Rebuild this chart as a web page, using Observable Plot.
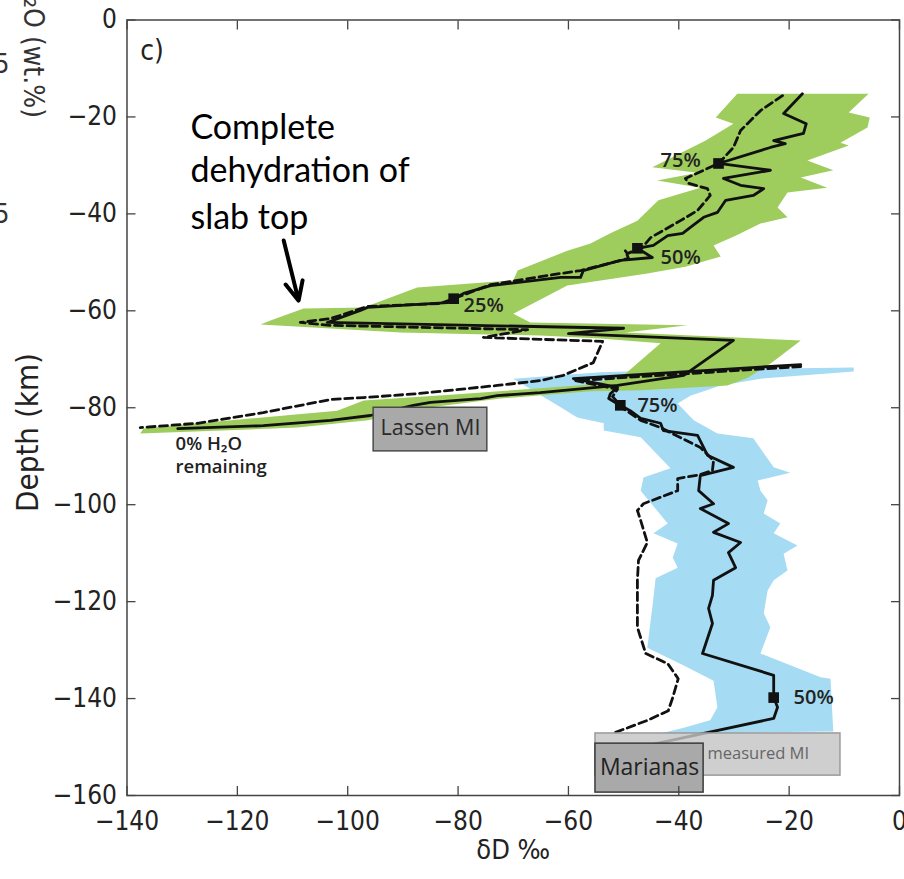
<!DOCTYPE html>
<html><head><meta charset="utf-8">
<script src="https://cdn.jsdelivr.net/npm/d3@7"></script>
<script src="https://cdn.jsdelivr.net/npm/@observablehq/plot@0.6"></script>
<style>body{margin:0;background:#fff}#chart svg{display:block}</style>
</head><body><div id="chart"></div>
<script>
const xTicks = [-140, -120, -100, -80, -60, -40, -20, 0];
const yTicks = [0, -20, -40, -60, -80, -100, -120, -140, -160];

// [δD ‰, depth km]
const lassenSolid = [[-17.6,-15.2],[-21.0,-19.3],[-16.9,-21.4],[-17.4,-23.4],[-22.8,-24.9],[-20.7,-25.5],[-23.4,-26.3],[-32.8,-29.6],[-23.4,-31.0],[-31.9,-32.7],[-28.8,-34.1],[-24.6,-34.8],[-26.5,-36.2],[-31.5,-37.2],[-33.0,-39.7],[-35.5,-40.7],[-37.9,-42.8],[-39.3,-44.0],[-42.0,-44.5],[-44.6,-46.5],[-47.5,-47.1],[-44.8,-49.0],[-50.6,-49.6],[-57.3,-51.7],[-57.8,-53.1],[-61.4,-53.1],[-74.1,-54.8],[-79.0,-56.4],[-80.8,-57.5],[-81.9,-58.3],[-96.4,-59.3],[-97.7,-59.9],[-103.7,-62.4],[-50.0,-63.6],[-60.0,-64.7],[-30.1,-66.1],[-39.1,-73.3],[-51.1,-75.4],[-65.1,-76.9],[-72.9,-77.5],[-75.9,-78.1],[-85.0,-78.9],[-88.1,-79.5],[-95.9,-81.6],[-103.1,-82.6],[-115.3,-83.7],[-130.8,-84.3]];
const lassenDashed = [[-21.2,-15.6],[-25.2,-18.7],[-28.8,-22.8],[-30.1,-26.3],[-32.8,-29.6],[-38.8,-32.7],[-38.2,-33.7],[-34.8,-34.8],[-34.3,-36.2],[-36.6,-39.3],[-39.7,-41.4],[-45.1,-44.9],[-46.6,-46.9],[-49.3,-48.2],[-49.7,-47.6],[-49.1,-49.2],[-57.8,-51.7],[-61.4,-52.3],[-74.1,-54.6],[-80.8,-57.5],[-83.2,-58.5],[-96.4,-59.1],[-103.1,-61.6],[-108.6,-62.4],[-103.1,-63.0],[-67.4,-63.9],[-75.4,-65.5],[-53.8,-66.3],[-55.5,-70.7],[-60.9,-73.3],[-65.1,-74.4],[-72.9,-75.4],[-87.4,-77.1],[-97.1,-77.9],[-103.1,-78.3],[-115.3,-81.0],[-127.2,-83.2],[-137.6,-84.1]];
const marianasSolid = [[-17.9,-71.1],[-59.1,-74.0],[-51.1,-75.8],[-52.4,-77.1],[-52.7,-78.1],[-51.5,-78.9],[-50.6,-79.5],[-48.8,-80.6],[-46.9,-82.2],[-43.3,-83.2],[-42.8,-84.7],[-36.6,-85.7],[-34.8,-89.8],[-30.1,-92.3],[-36.1,-94.0],[-36.4,-97.1],[-33.7,-99.8],[-36.1,-100.8],[-31.0,-103.9],[-33.7,-105.7],[-28.8,-107.8],[-31.0,-109.9],[-29.7,-113.0],[-33.7,-115.6],[-33.9,-118.7],[-34.6,-121.4],[-33.9,-124.5],[-35.7,-130.7],[-22.8,-135.2],[-22.8,-139.8],[-22.1,-141.8],[-22.8,-144.1],[-43.3,-149.1],[-47.0,-150.0]];
const marianasDashed = [[-17.9,-71.5],[-58.7,-74.4],[-51.1,-76.2],[-52.0,-77.7],[-50.0,-80.2],[-46.9,-82.6],[-43.3,-84.1],[-36.1,-88.2],[-33.7,-90.9],[-33.9,-92.9],[-36.1,-93.8],[-40.2,-94.6],[-40.2,-97.1],[-46.4,-99.8],[-47.5,-101.2],[-46.9,-103.3],[-45.7,-107.8],[-47.3,-111.5],[-47.5,-115.6],[-47.5,-125.3],[-46.0,-130.7],[-42.0,-132.8],[-40.1,-135.9],[-41.1,-139.8],[-41.9,-142.5],[-45.7,-144.5],[-52.0,-147.2]];
const lassenBand = [[-29.4,-15.2],[-5.6,-15.2],[-9.2,-19.1],[-5.4,-20.1],[-5.8,-22.2],[-10.7,-25.3],[-9.2,-25.9],[-16.7,-29.0],[-12.0,-31.0],[-17.9,-32.5],[-13.1,-34.6],[-20.3,-35.6],[-22.1,-38.7],[-20.3,-40.7],[-25.2,-42.0],[-29.7,-44.5],[-33.7,-46.5],[-32.4,-48.8],[-38.8,-50.9],[-45.7,-52.3],[-60.2,-54.8],[-70.0,-60.6],[-66.9,-62.4],[-38.4,-63.0],[-49.7,-64.5],[-17.9,-66.1],[-23.4,-70.9],[-27.5,-73.8],[-31.2,-75.4],[-46.9,-76.4],[-56.0,-76.6],[-72.3,-78.1],[-85.0,-79.9],[-96.4,-82.6],[-109.1,-84.1],[-137.6,-85.3],[-137.0,-84.3],[-121.2,-82.6],[-101.9,-80.6],[-97.1,-78.5],[-81.4,-77.3],[-65.1,-76.0],[-56.0,-75.2],[-50.0,-73.3],[-43.3,-66.7],[-54.2,-65.7],[-65.1,-65.1],[-90.4,-64.5],[-115.8,-62.8],[-114.0,-62.0],[-108.0,-59.5],[-97.1,-59.3],[-87.4,-55.2],[-70.0,-53.7],[-69.2,-51.7],[-60.2,-47.6],[-56.0,-46.1],[-52.4,-44.0],[-47.5,-41.4],[-43.7,-37.2],[-36.1,-34.6],[-43.9,-33.1],[-36.6,-31.5],[-44.8,-30.4],[-35.2,-24.9],[-30.1,-21.4],[-33.3,-20.1]];
const marianasBand = [[-70.0,-74.0],[-54.2,-72.7],[-36.1,-72.1],[-8.3,-71.7],[-8.3,-72.5],[-25.2,-74.0],[-32.4,-75.4],[-37.9,-77.5],[-40.2,-79.1],[-37.3,-82.6],[-33.0,-85.3],[-26.5,-86.3],[-22.8,-92.3],[-19.8,-93.4],[-25.7,-95.0],[-25.2,-97.1],[-23.9,-99.1],[-24.6,-101.8],[-21.6,-103.9],[-22.8,-105.9],[-18.5,-108.4],[-21.0,-110.1],[-20.3,-113.6],[-22.8,-115.6],[-23.9,-117.7],[-24.6,-122.4],[-23.4,-125.3],[-25.2,-130.7],[-14.3,-135.6],[-12.5,-135.9],[-12.0,-146.8],[-43.3,-147.2],[-39.1,-146.0],[-34.3,-144.5],[-33.0,-141.8],[-33.7,-136.3],[-39.1,-133.2],[-45.7,-129.5],[-45.1,-123.9],[-44.8,-121.2],[-44.2,-115.2],[-40.2,-113.0],[-41.1,-110.9],[-40.2,-108.0],[-44.6,-105.9],[-42.0,-103.9],[-46.9,-97.1],[-46.4,-94.4],[-41.5,-92.5],[-46.9,-86.1],[-53.6,-84.7],[-53.6,-83.2],[-58.4,-82.0],[-61.4,-79.9]];
const markerX = [-32.8, -47.5, -80.8, -50.6, -22.8];
const markerY = [-29.6, -47.1, -57.5, -79.5, -139.8];
const pctText = ["75%", "50%", "25%", "75%", "50%"];
const pctX = [-43.3, -43.3, -79.0, -47.5, -19.2];
const pctY = [-29.0, -49.0, -58.9, -79.5, -139.8];
const boxNames = ["Lassen MI", "measured MI", "Marianas"];
const boxX1 = [-95.3, -55.1, -55.1], boxX2 = [-74.7, -10.7, -35.5];
const boxY1 = [-80.0, -147.2, -149.3], boxY2 = [-89.0, -155.9, -159.4];
const boxTextX = [-85.0, -25.6, -45.3], boxTextY = [-84.3, -151.3, -154.2];
const boxFill = ["#a9a9a9", "#c4c4c4", "#a9a9a9"], boxStroke = ["#4a4a4a", "#9a9a9a", "#3a3a3a"];
const boxOpacity = [1, 0.82, 1];
const boxFont = [21.5, 16.5, 23], boxTextColor = ["#2a2a2a", "#666", "#222"];

const P = a => a.map(([x, y]) => ({x, y}));
const CF = "'DejaVu Sans Condensed', 'Liberation Sans Narrow', sans-serif";
const SF = "'Open Sans', 'Noto Sans', sans-serif";
const idx5 = [0, 1, 2, 3, 4];

const boxMarks = [0, 1, 2].flatMap(i => [
  Plot.rect([i], {x1: boxX1[i], x2: boxX2[i], y1: boxY1[i], y2: boxY2[i], fill: boxFill[i], fillOpacity: boxOpacity[i], stroke: boxStroke[i], strokeWidth: 1.5}),
  Plot.text([boxNames[i]], {x: boxTextX[i], y: boxTextY[i], text: d => d, fontSize: boxFont[i], fontFamily: SF, fill: boxTextColor[i]})
]);

const chart = Plot.plot({
  width: 904, height: 879,
  marginLeft: 126.5, marginRight: 5, marginTop: 19.5, marginBottom: 84,
  x: {domain: [-140, 0]},
  y: {domain: [-160, 0]},
  style: {fontFamily: CF, background: "#fff"},
  marks: [
    Plot.line(P(marianasBand), {x: "x", y: "y", fill: "#a6dbf4", stroke: "none"}),
    Plot.line(P(lassenBand), {x: "x", y: "y", fill: "#9ecd5e", stroke: "none"}),
    Plot.line(P(lassenDashed), {x: "x", y: "y", stroke: "#111", strokeWidth: 2.8, strokeDasharray: "8,4.5"}),
    Plot.line(P(lassenSolid), {x: "x", y: "y", stroke: "#111", strokeWidth: 2.8}),
    Plot.line(P(marianasDashed), {x: "x", y: "y", stroke: "#111", strokeWidth: 2.8, strokeDasharray: "8,4.5"}),
    Plot.line(P(marianasSolid), {x: "x", y: "y", stroke: "#111", strokeWidth: 2.8}),
    Plot.dot(idx5, {x: i => markerX[i], y: i => markerY[i], symbol: "square", r: 6, fill: "#111"}),
    Plot.text(idx5, {x: i => pctX[i], y: i => pctY[i], text: i => pctText[i], textAnchor: "start", fontSize: 20, fontWeight: 600, fontFamily: SF, fill: "#222"}),
    ...boxMarks,
    Plot.text(["0% H₂O", "remaining"], {x: -131.2, y: (d, i) => [-87.4, -92.3][i], text: d => d, textAnchor: "start", fontSize: 18.5, fontWeight: 600, fontFamily: SF, fill: "#222"}),
    Plot.text(["Complete", "dehydration of", "slab top"], {x: -128.5, y: (d, i) => [-22.4, -31.2, -40.8][i], text: d => d, textAnchor: "start", fontSize: 34, fontFamily: "Lato, 'Open Sans', sans-serif", fill: "#000"}),
    Plot.arrow([0], {x1: -111.6, y1: -45.5, x2: -108.9, y2: -57.9, stroke: "#000", strokeWidth: 4, headLength: 8, headAngle: 50}),
    Plot.text(["c)"], {x: -137.6, y: -6.3, text: d => d, textAnchor: "start", fontSize: 28, fontFamily: CF, fill: "#222"}),
    Plot.frame({stroke: "#444", strokeWidth: 1.5}),
    Plot.axisX({anchor: "bottom", ticks: xTicks, tickSize: -9, tickPadding: 25, label: null, fontSize: 26, stroke: "#444", strokeWidth: 1.3, fill: "#222"}),
    Plot.axisX({anchor: "top", ticks: xTicks, tickSize: -9, tickFormat: () => "", label: null, stroke: "#444", strokeWidth: 1.3}),
    Plot.axisY({anchor: "left", ticks: yTicks, tickSize: -9, tickPadding: 19, label: null, fontSize: 26, stroke: "#444", strokeWidth: 1.3, fill: "#222"}),
    Plot.axisY({anchor: "right", ticks: yTicks, tickSize: -9, tickFormat: () => "", label: null, stroke: "#444", strokeWidth: 1.3}),
    Plot.text(["δD ‰"], {frameAnchor: "bottom", dy: 63, text: d => d, fontSize: 27, fontFamily: CF, fill: "#222"}),
    Plot.text(["Depth (km)"], {y: () => -85.1, frameAnchor: "left", dx: -98.5, rotate: -90, textAnchor: "middle", text: d => d, fontSize: 31, fontFamily: CF, fill: "#222"}),
    Plot.text(["H₂O (wt.%)"], {frameAnchor: "top-left", dx: -83.5, dy: 98, rotate: 90, textAnchor: "end", text: d => d, fontSize: 28, fontFamily: CF, fill: "#333"}),
    Plot.text(["5"], {frameAnchor: "top-left", dx: -117.5, dy: 34.5, textAnchor: "end", text: d => d, fontSize: 26, fontFamily: CF, fill: "#333"}),
    Plot.text(["5"], {frameAnchor: "top-left", dx: -117.5, dy: 184.5, textAnchor: "end", text: d => d, fontSize: 26, fontFamily: CF, fill: "#333"})
  ]
});
document.getElementById("chart").append(chart);
</script></body></html>
